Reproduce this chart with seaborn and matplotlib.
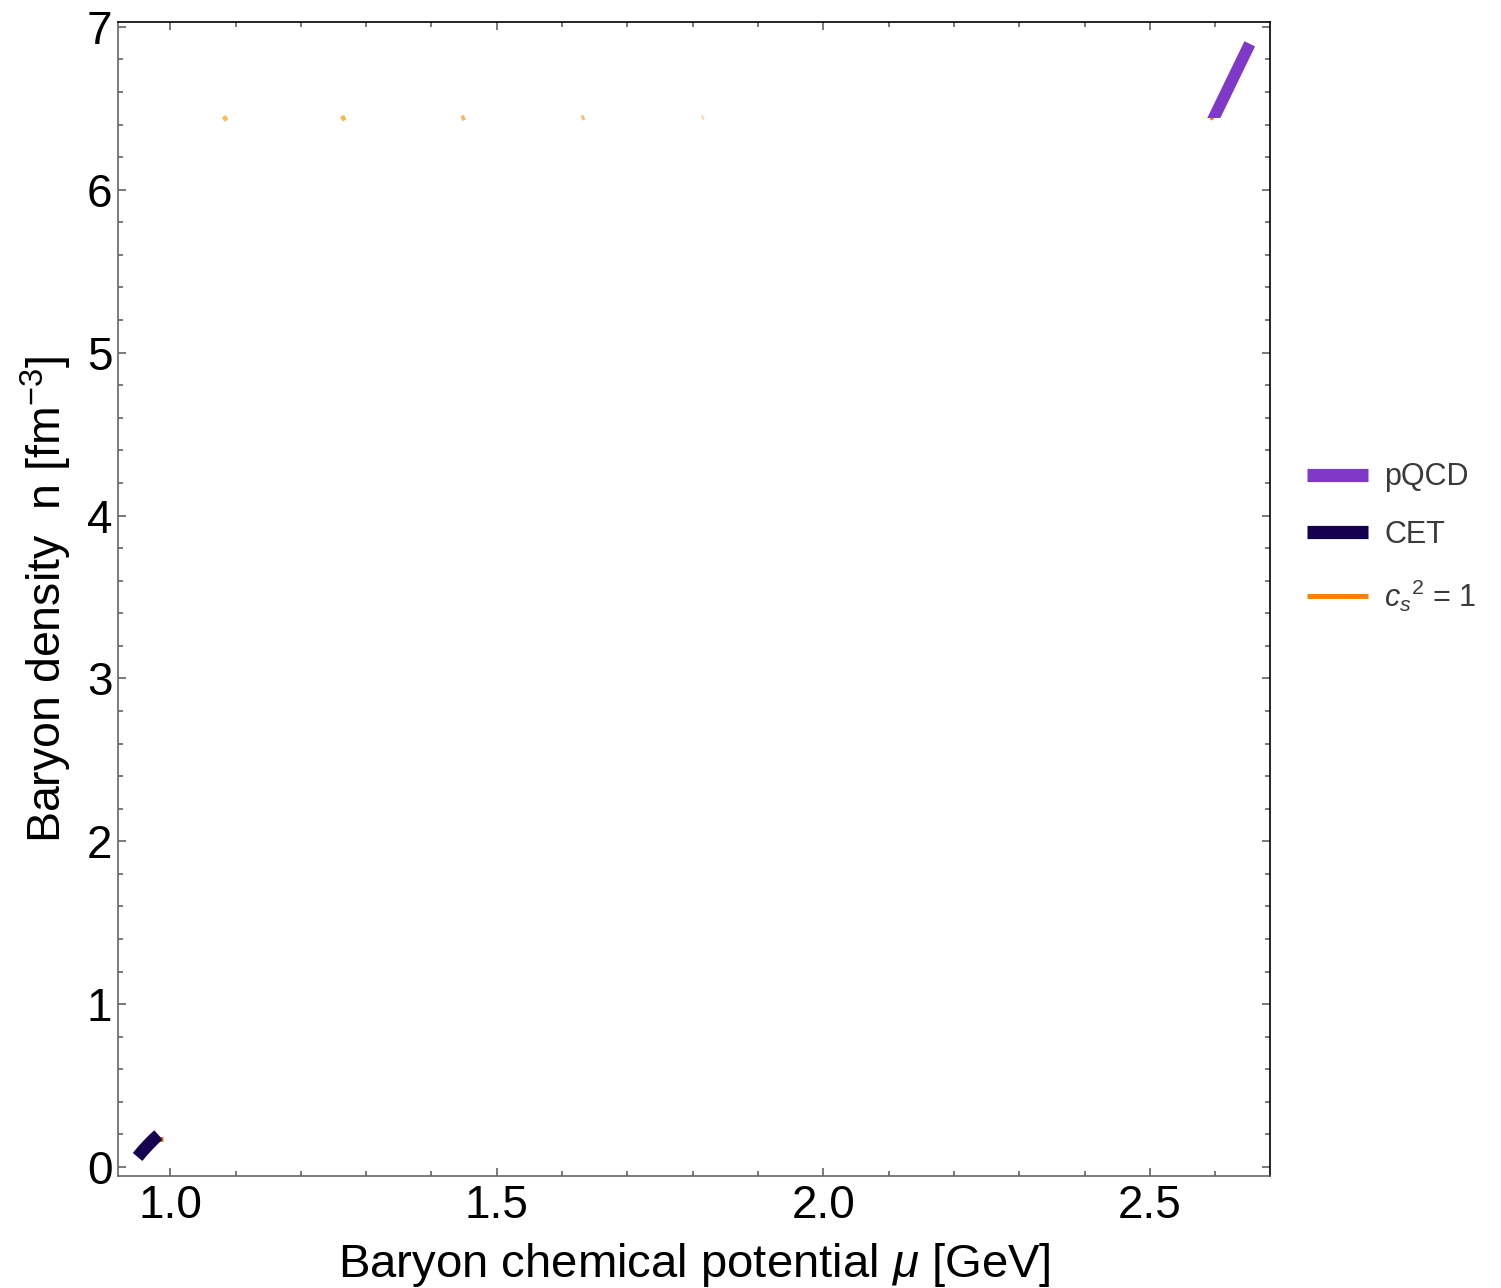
import numpy as np
import pandas as pd
import seaborn as sns
import matplotlib
matplotlib.use("Agg")
import matplotlib.pyplot as plt
from matplotlib.patches import Rectangle
from matplotlib.ticker import MultipleLocator, FormatStrFormatter
from matplotlib.lines import Line2D

# ---- data ----
# perturbative QCD band (upper right), cut off from below at n_cut
pqcd_mu = [2.586, 2.653]
pqcd_n = [6.342, 6.896]
n_cut = 6.442

# chiral effective theory band (lower left)
cet_mu = [0.950, 0.958, 0.966, 0.974, 0.982]
cet_n = [0.062, 0.100, 0.135, 0.168, 0.197]

# causal (c_s^2 = 1) segments: short pieces that remain visible
cs_seg = [0, 0, 1, 1, 2, 2, 3, 3, 4, 4, 5, 5, 6, 6]
cs_mu = [1.081, 1.087, 1.262, 1.268, 1.446, 1.451, 1.630, 1.634,
         1.814, 1.817, 2.592, 2.597, 0.982, 0.989]
cs_n = [6.430, 6.446, 6.433, 6.446, 6.436, 6.446, 6.439, 6.446,
        6.442, 6.446, 6.440, 6.446, 0.170, 0.170]
cs_alpha = [0.8, 0.8, 0.7, 0.6, 0.35, 1.0, 1.0]
cs_colors = ["#FFB020", "#FFA020", "#FF9418", "#FF8A10", "#FF8A10", "#FF8000", "#FF8000"]

x_label = r"Baryon chemical potential $\mu$ [GeV]"
y_label = r"Baryon density  n [fm$^{-3}$]"
legend_labels = ["pQCD", "CET", r"$c_s$$^{\mathrm{2}}$ = 1"]

c_pqcd = "#7F38C8"
c_cet = "#14004F"
c_cs = "#FF8000"

# ---- style ----
sns.set_style("ticks")
plt.rcParams["font.family"] = ["Liberation Sans", "DejaVu Sans"]
plt.rcParams["mathtext.fontset"] = "custom"
plt.rcParams["mathtext.rm"] = "Liberation Sans"
plt.rcParams["mathtext.it"] = "Liberation Sans:italic"
plt.rcParams["mathtext.bf"] = "Liberation Sans:bold"
plt.rcParams["text.color"] = "black"
plt.rcParams["axes.labelcolor"] = "black"

fig = plt.figure(figsize=(15.01, 12.88), dpi=100)
ax = fig.add_axes([118 / 1501, 1 - 1176 / 1288, (1270 - 118) / 1501, (1176 - 22) / 1288])

df_cs = pd.DataFrame({"mu": cs_mu, "n": cs_n, "seg": cs_seg})
for s, grp in df_cs.groupby("seg"):
    sns.lineplot(data=grp, x="mu", y="n", ax=ax, color=cs_colors[s],
                 alpha=cs_alpha[s], lw=3.6, solid_capstyle="butt",
                 sort=False, estimator=None)

df_cet = pd.DataFrame({"mu": cet_mu, "n": cet_n})
sns.lineplot(data=df_cet, x="mu", y="n", ax=ax, color=c_cet, lw=9,
             solid_capstyle="butt", sort=False, estimator=None)

df_pqcd = pd.DataFrame({"mu": pqcd_mu, "n": pqcd_n})
sns.lineplot(data=df_pqcd, x="mu", y="n", ax=ax, color=c_pqcd, lw=8.5,
             solid_capstyle="butt", sort=False, estimator=None)
clip = Rectangle((0.9, n_cut), 2.0, 2.0, transform=ax.transData)
ax.lines[-1].set_clip_path(clip)

ax.set_xlim(0.920, 2.684)
ax.set_ylim(-0.055, 7.03)
ax.xaxis.set_major_locator(MultipleLocator(0.5))
ax.xaxis.set_minor_locator(MultipleLocator(0.1))
ax.yaxis.set_major_locator(MultipleLocator(1))
ax.yaxis.set_minor_locator(MultipleLocator(0.2))
ax.xaxis.set_major_formatter(FormatStrFormatter("%.1f"))
ax.yaxis.set_major_formatter(FormatStrFormatter("%d"))

ax.tick_params(which="both", direction="in", top=True, right=True,
               colors="#555555", labelcolor="black", labelsize=33, width=1.1)
ax.tick_params(which="major", length=6)
ax.tick_params(which="minor", length=3.6)
ax.tick_params(axis="x", pad=6)
ax.tick_params(axis="y", pad=4)

for side in ["left", "bottom"]:
    ax.spines[side].set_color("#666666")
for side in ["top", "right"]:
    ax.spines[side].set_color("black")
for sp in ax.spines.values():
    sp.set_linewidth(1.2)

ax.set_xlabel(x_label, fontsize=34, labelpad=9)
ax.set_ylabel(y_label, fontsize=33.5, labelpad=9)

handles = [Line2D([], [], color=c_pqcd, lw=9.5, solid_capstyle="butt"),
           Line2D([], [], color=c_cet, lw=9.5, solid_capstyle="butt"),
           Line2D([], [], color=c_cs, lw=3.6, solid_capstyle="butt")]
leg = fig.legend(handles, legend_labels, loc="upper left",
                 bbox_to_anchor=(1279 / 1501, 1 - 435 / 1288),
                 frameon=False, fontsize=22, handlelength=2.0,
                 handletextpad=0.55, labelspacing=0.9, labelcolor="#3a3a3a")

fig.savefig("out.png", dpi=100)
